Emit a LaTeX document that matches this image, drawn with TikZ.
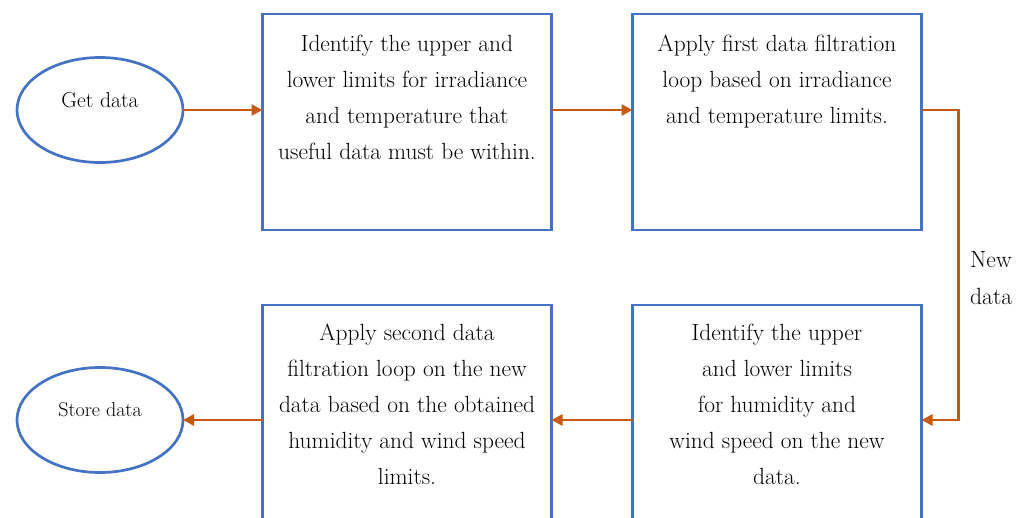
\documentclass[tikz,border=0pt]{standalone}
\usepackage{xcolor}
\usepackage{tikz}
\usetikzlibrary{shapes,arrows,positioning,calc,arrows.meta}
\definecolor{boxblue}{RGB}{68,114,196}
\definecolor{flowbrown}{RGB}{197,90,17}

\begin{document}
\begin{tikzpicture}[x=1pt,y=-1pt,
    blk/.style={draw=boxblue,line width=2.7pt,rectangle,minimum width=289pt,minimum height=216pt,inner sep=0pt,outer sep=0pt},
    oval/.style={draw=boxblue,line width=2.7pt,ellipse,minimum width=166pt,minimum height=105pt,inner sep=0pt,outer sep=0pt},
    blktxt/.style={align=center,inner sep=0pt,font=\fontsize{23.4}{36}\selectfont},
    flow/.style={draw=flowbrown,line width=2.8pt,-{Triangle[length=11pt,width=11pt]}}]
    \useasboundingbox (0,0) rectangle (1031,518);
    \clip (0,0) rectangle (1031,518);

    % Start and end
    \node[oval,label={[blktxt,font=\fontsize{21.6}{26}\selectfont,yshift=10pt]center:Get data}] (get) at (100,110) {};
    \node[oval,label={[blktxt,font=\fontsize{20}{24}\selectfont,yshift=10pt]center:Store data}] (store) at (100,420) {};

    % Blocks
    \node[blk] (lim1) at (407,122) {};
    \node[blk] (filt1) at (777,122) {};
    \node[blk] (lim2) at (777,413) {};
    \node[blk] (filt2) at (407,413) {};

    % Block texts
    \node[blktxt,below=21pt of lim1.north] (lim1t) {Identify the upper and\\lower limits for irradiance\\and temperature that\\useful data must be within.};
    \node[blktxt,below=21pt of filt1.north] (filt1t) {Apply first data filtration\\loop based on irradiance\\and temperature limits.};
    \node[blktxt,below=19pt of lim2.north] (lim2t) {Identify the upper\\and lower limits\\for humidity and\\wind speed on the new\\data.};
    \node[blktxt,below=19pt of filt2.north] (filt2t) {Apply second data\\filtration loop on the new\\data based on the obtained\\humidity and wind speed\\limits.};

    % Flow
    \draw[flow] (get) -- (get -| lim1.west);
    \draw[flow] (lim1.east |- get) -- (filt1.west |- get);
    \draw[flow] (filt1.east |- get) -- ++(37,0) |- (lim2.east |- store);
    \draw[flow] (lim2.west |- store) -- (filt2.east |- store);
    \draw[flow] (filt2.west |- store) -- (store);

    % Loop label
    \node[blktxt,font=\fontsize{23.5}{37}\selectfont,align=left,anchor=west] (newd) at (970,278) {New\\data};
\end{tikzpicture}
\end{document}
